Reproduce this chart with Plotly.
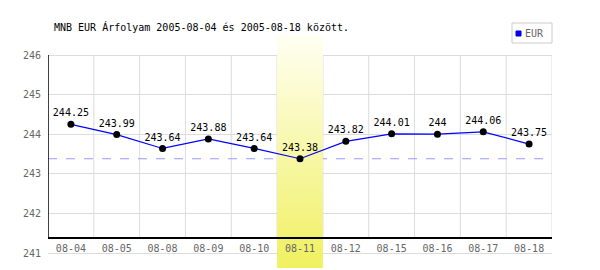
import plotly.graph_objects as go

categories = ["08-04", "08-05", "08-08", "08-09", "08-10", "08-11",
              "08-12", "08-15", "08-16", "08-17", "08-18"]
values = [244.25, 243.99, 243.64, 243.88, 243.64, 243.38,
          243.82, 244.01, 244.00, 244.06, 243.75]
value_labels = ["244.25", "243.99", "243.64", "243.88", "243.64", "243.38",
                "243.82", "244.01", "244", "244.06", "243.75"]
y_ticks = [241, 242, 243, 244, 245, 246]
highlight = "08-11"
title = "MNB EUR Árfolyam 2005-08-04 és 2005-08-18 között."
series_name = "EUR"

W, H = 600, 270
FONT = "DejaVu Sans Mono"

x_idx = list(range(len(categories)))
hi_i = categories.index(highlight)
min_val = min(values)

# pixel geometry
px_left, px_right = 48, 552
px_top_dom, px_bot_dom = 35, 268
px_246, px_241 = 55, 253
ppu = (px_241 - px_246) / (y_ticks[-1] - y_ticks[0])
y_hi = y_ticks[-1] + (px_246 - px_top_dom) / ppu
y_lo = y_ticks[0] - (px_bot_dom - px_241) / ppu
px_xaxis = 238.3
y_axis_val = y_ticks[-1] - (px_xaxis - px_246) / ppu

fig = go.Figure()

# highlight band with vertical gradient
fig.add_trace(go.Scatter(
    x=[hi_i - 0.5, hi_i + 0.5, hi_i + 0.5, hi_i - 0.5, hi_i - 0.5],
    y=[y_lo, y_lo, y_hi, y_hi, y_lo],
    mode="lines", line=dict(width=0), fill="toself",
    fillgradient=dict(type="vertical",
                      colorscale=[[0, "#f0f060"], [1, "#fffff2"]]),
    hoverinfo="skip", showlegend=False,
))

fig.add_trace(go.Scatter(
    x=x_idx, y=values, mode="lines+markers+text",
    line=dict(color="#0000ff", width=1.2),
    marker=dict(color="black", size=7),
    text=value_labels, textposition="top center",
    textfont=dict(family=FONT, size=10, color="black"),
    name=series_name, showlegend=False, cliponaxis=False,
))

shapes = []
# vertical grid lines at category boundaries
for k in range(len(categories)):
    shapes.append(dict(type="line", xref="x", yref="y",
                       x0=k + 0.5, x1=k + 0.5, y0=y_axis_val, y1=y_ticks[-1],
                       line=dict(color="#dcdcdc", width=1), layer="below"))
# dashed min line
shapes.append(dict(type="line", xref="x", yref="y",
                   x0=-0.5, x1=10.4, y0=min_val, y1=min_val,
                   line=dict(color="#9999ff", width=1, dash="dash"), layer="below"))
# left black axis
shapes.append(dict(type="line", xref="x", yref="y",
                   x0=-0.5, x1=-0.5, y0=y_axis_val, y1=y_ticks[-1],
                   line=dict(color="black", width=1.5), layer="above"))
# legend box
shapes.append(dict(type="rect", xref="paper", yref="paper",
                   x0=512 / W, x1=552 / W, y0=(H - 43) / H, y1=(H - 23) / H,
                   line=dict(color="#cccccc", width=1), fillcolor="white"))
shapes.append(dict(type="rect", xref="paper", yref="paper",
                   x0=516 / W, x1=521 / W, y0=(H - 36) / H, y1=(H - 31) / H,
                   line=dict(color="#0000cc", width=1), fillcolor="#0000ff"))

annotations = [
    dict(text=title, xref="paper", yref="paper", x=52 / W, y=(H - 27) / H,
         xanchor="left", yanchor="middle", showarrow=False,
         font=dict(family=FONT, size=10, color="black")),
    dict(text=series_name, xref="paper", yref="paper", x=523 / W, y=(H - 33) / H,
         xanchor="left", yanchor="middle", showarrow=False,
         font=dict(family=FONT, size=10, color="#666666")),
]

fig.update_layout(
    width=W, height=H, margin=dict(l=0, r=0, t=0, b=0),
    paper_bgcolor="white", plot_bgcolor="white",
    shapes=shapes, annotations=annotations, showlegend=False,
    xaxis=dict(domain=[px_left / W, px_right / W], range=[-0.5, 10.5],
               tickmode="array", tickvals=x_idx, ticktext=categories,
               showgrid=False, zeroline=False, showline=True,
               linecolor="black", linewidth=1.5, ticks="",
               anchor="free", position=(H - px_xaxis) / H,
               tickfont=dict(family=FONT, size=10, color="#666666"),
               ticklabelstandoff=1, fixedrange=True),
    yaxis=dict(domain=[(H - px_bot_dom) / H, (H - px_top_dom) / H],
               range=[y_lo, y_hi], tickmode="array", tickvals=y_ticks,
               showgrid=True, gridcolor="#dcdcdc", gridwidth=1,
               zeroline=False, showline=False, ticks="",
               tickfont=dict(family=FONT, size=10, color="#666666"),
               ticklabelstandoff=6, fixedrange=True),
)

fig.write_html("out.html")
